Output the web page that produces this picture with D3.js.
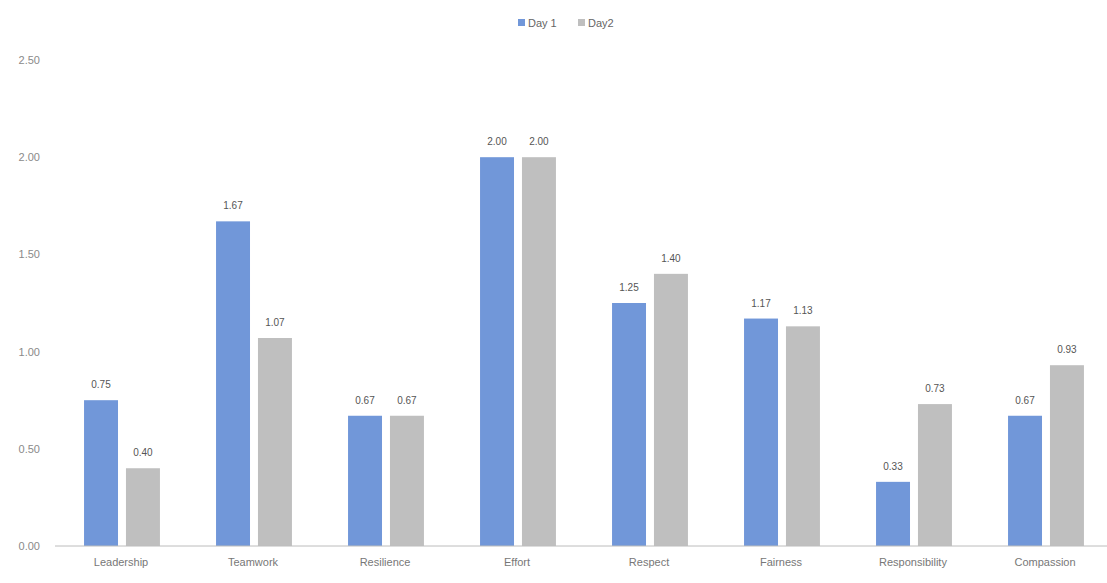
<!DOCTYPE html>
<html>
<head>
<meta charset="utf-8">
<script src="https://cdn.jsdelivr.net/npm/d3@7/dist/d3.min.js"></script>
<style>
  html, body { margin: 0; padding: 0; background: #fff; }
  svg { display: block; font-family: "Liberation Sans", Arial, sans-serif; }
</style>
</head>
<body>
<svg id="chart" width="1107" height="583"></svg>
<script>
// Average score per value, two days
const categories = ["Leadership", "Teamwork", "Resilience", "Effort", "Respect", "Fairness", "Responsibility", "Compassion"];
const seriesNames = ["Day 1", "Day2"];
const day1 = [0.75, 1.67, 0.67, 2.00, 1.25, 1.17, 0.33, 0.67];
const day2 = [0.40, 1.07, 0.67, 2.00, 1.40, 1.13, 0.73, 0.93];
const yTicks = [0, 0.5, 1, 1.5, 2, 2.5];
const colors = ["#7197d9", "#bfbfbf"];

const svg = d3.select("#chart");
const margin = { top: 60, right: -4, bottom: 37, left: 55 };
const W = 1107, H = 583;

const x = d3.scaleBand()
  .domain(categories)
  .range([margin.left, W - margin.right])
  .paddingInner(0).paddingOuter(0);

// two bars per category, centred in the band with a small gap between them
const inner = d3.scaleBand()
  .domain(seriesNames)
  .range([x.bandwidth() * 0.22, x.bandwidth() * 0.795])
  .paddingInner(0.19).paddingOuter(0);

const y = d3.scaleLinear()
  .domain([0, 2.5])
  .range([H - margin.bottom, margin.top]);

// y axis labels only (no axis line)
const yAxis = d3.axisLeft(y)
  .tickValues(yTicks)
  .tickFormat(d3.format(".2f"))
  .tickSize(0)
  .tickPadding(0);

svg.append("g")
  .attr("transform", `translate(${40},0)`)
  .call(yAxis)
  .call(g => g.select(".domain").remove())
  .call(g => g.selectAll("text")
    .attr("fill", "#8a8a8a")
    .attr("font-size", 11));

// bars
const data = categories.map((c, i) => ({ cat: c, vals: [day1[i], day2[i]] }));

const groups = svg.append("g").selectAll("g")
  .data(data)
  .join("g")
  .attr("transform", d => `translate(${x(d.cat)},0)`);

groups.selectAll("rect")
  .data(d => d.vals.map((v, j) => ({ s: seriesNames[j], v, j })))
  .join("rect")
  .attr("x", d => inner(d.s))
  .attr("width", inner.bandwidth())
  .attr("y", d => y(d.v))
  .attr("height", d => y(0) - y(d.v))
  .attr("fill", d => colors[d.j]);

// value labels
groups.selectAll("text.val")
  .data(d => d.vals.map((v, j) => ({ s: seriesNames[j], v, j })))
  .join("text")
  .attr("class", "val")
  .attr("x", d => inner(d.s) + inner.bandwidth() / 2)
  .attr("y", d => y(d.v) - 12)
  .attr("text-anchor", "middle")
  .attr("font-size", 10)
  .attr("fill", "#555")
  .text(d => d3.format(".2f")(d.v));

// baseline
svg.append("line")
  .attr("x1", margin.left).attr("x2", W)
  .attr("y1", y(0)).attr("y2", y(0))
  .attr("stroke", "#bcbcbc").attr("stroke-width", 1);

// x axis labels
const xAxis = d3.axisBottom(x).tickSize(0).tickPadding(12);
svg.append("g")
  .attr("transform", `translate(0,${y(0)})`)
  .call(xAxis)
  .call(g => g.select(".domain").remove())
  .call(g => g.selectAll("text")
    .attr("fill", "#777")
    .attr("font-size", 11));

// legend
const legend = svg.append("g").attr("transform", "translate(518,23)");
const items = legend.selectAll("g")
  .data(seriesNames)
  .join("g")
  .attr("transform", (d, i) => `translate(${i * 60},0)`);
items.append("rect")
  .attr("x", 0).attr("y", -4)
  .attr("width", 7).attr("height", 7)
  .attr("fill", (d, i) => colors[i]);
items.append("text")
  .attr("x", 10).attr("y", 3.5)
  .attr("font-size", 11)
  .attr("fill", "#666")
  .text(d => d);
</script>
</body>
</html>
